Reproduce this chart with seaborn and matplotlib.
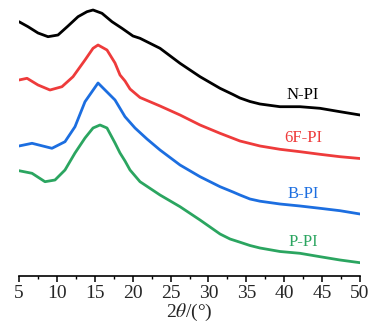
import matplotlib
matplotlib.use("Agg")
import matplotlib.pyplot as plt
import seaborn as sns
import pandas as pd
from matplotlib.ticker import MultipleLocator

sns.set_theme(style="white")
plt.rcParams['font.family'] = ['Liberation Serif', 'DejaVu Serif']
plt.rcParams['mathtext.fontset'] = 'stix'

# 2theta (deg) and stacked intensity (a.u., offset)
n_x = [5.00, 6.19, 7.51, 8.83, 10.15, 11.47, 12.79, 13.97, 14.77, 15.95, 17.27, 18.59,
       20.04, 20.97, 23.61, 26.25, 28.89, 31.53, 33.24, 34.16, 35.48, 36.80, 39.44,
       42.08, 44.72, 47.36, 50.00]
n_y = [254.3, 249.3, 243.0, 239.3, 241.0, 250.0, 259.3, 264.3, 266.0, 262.7, 254.3, 247.7,
       240.0, 237.7, 227.7, 212.7, 199.3, 187.7, 181.5, 178.0, 174.5, 172.0, 169.3,
       169.3, 167.7, 164.3, 161.0]

f_x = [5.00, 6.06, 7.51, 9.09, 10.67, 12.13, 13.71, 14.77, 15.43, 16.61, 17.67, 18.33,
       18.99, 19.65, 20.97, 23.61, 26.25, 28.89, 31.53, 34.16, 36.80, 39.44, 42.08,
       44.72, 47.36, 50.00]
f_y = [196.0, 197.7, 191.0, 186.0, 189.3, 199.3, 216.0, 227.7, 231.0, 226.0, 213.0, 201.0,
       195.0, 187.0, 178.5, 170.0, 161.0, 151.0, 142.7, 135.0, 130.0, 126.7, 124.3,
       121.7, 119.3, 117.5]

b_x = [5.00, 6.72, 9.35, 11.07, 12.39, 13.71, 15.43, 17.67, 18.99, 20.31, 21.89, 23.61,
       26.25, 28.89, 31.53, 33.24, 34.16, 35.48, 36.80, 39.44, 42.08, 44.72, 47.36, 50.00]
b_y = [130.0, 132.7, 127.7, 134.3, 149.3, 174.3, 193.0, 176.0, 159.3, 148.0, 137.0, 126.0,
       111.0, 99.3, 89.3, 84.0, 81.0, 77.0, 74.8, 72.0, 70.0, 67.7, 65.3, 62.0]

p_x = [5.00, 6.72, 8.43, 9.75, 11.07, 12.39, 13.71, 14.77, 15.69, 16.61, 17.67, 18.33,
       18.99, 19.65, 20.97, 23.61, 26.25, 28.89, 31.53, 32.85, 34.16, 35.48, 36.80,
       39.44, 42.08, 44.72, 47.36, 50.00]
p_y = [105.3, 102.7, 94.3, 96.0, 106.0, 123.0, 138.0, 148.0, 151.0, 148.0, 133.0, 123.0,
       115.0, 106.0, 94.3, 81.0, 69.3, 56.0, 42.0, 37.0, 33.8, 30.5, 28.0,
       24.5, 22.7, 19.3, 16.0, 13.3]

names = ["N-PI", "6F-PI", "B-PI", "P-PI"]
colors = ["#000000", "#ee3b3b", "#1c6ee0", "#2ba560"]
label_y = [181, 138.5, 82, 33.5]

fig = plt.figure(figsize=(3.70, 3.28), dpi=100)
ax = fig.add_axes([19/370, 52/328, 341/370, 276/328])

for xs, ys, c in zip([n_x, f_x, b_x, p_x], [n_y, f_y, b_y, p_y], colors):
    df = pd.DataFrame({"x": xs, "y": ys})
    sns.lineplot(data=df, x="x", y="y", ax=ax, color=c, linewidth=2.0, sort=False,
                 solid_joinstyle="round", solid_capstyle="round")

for name, c, ly in zip(names, colors, label_y):
    ax.text(42.5, ly, name, color=c, fontsize=12, ha="center", va="center")

ax.set_xlim(5, 50)
ax.set_ylim(0, 276)
ax.xaxis.set_major_locator(MultipleLocator(5))
ax.xaxis.set_minor_locator(MultipleLocator(2.5))
ax.set_yticks([])
for s in ["top", "left", "right"]:
    ax.spines[s].set_visible(False)
ax.spines["bottom"].set_color("black")
ax.spines["bottom"].set_linewidth(1.2)
ax.tick_params(axis="x", which="major", direction="out", length=4.5, width=1.1,
               color="black", labelsize=14, pad=2, bottom=True)
ax.tick_params(axis="x", which="minor", direction="out", length=2.5, width=1.0,
               color="black", bottom=True)
ax.set_xlabel(r"2$\it{\theta}$/(°)", fontsize=14, labelpad=0)
ax.set_ylabel("")
ax.patch.set_alpha(0)

fig.savefig("out.png", dpi=100)
